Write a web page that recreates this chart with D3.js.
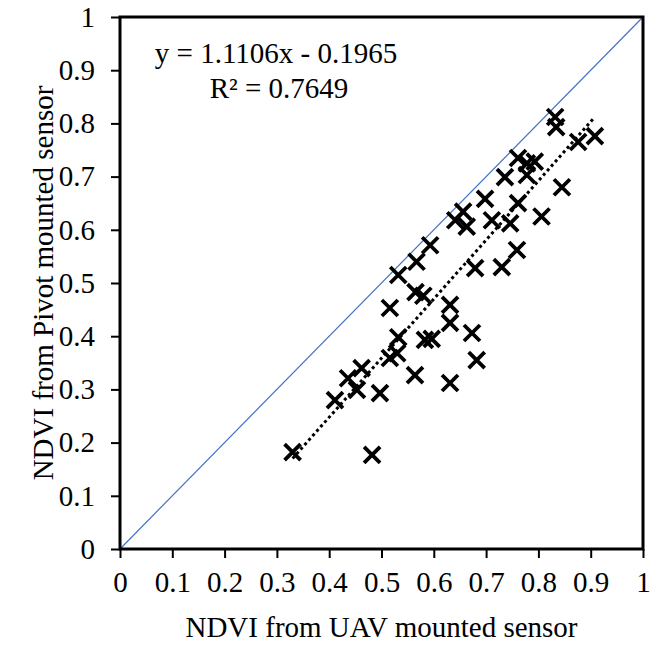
<!DOCTYPE html>
<html>
<head>
<meta charset="utf-8">
<script src="https://cdn.jsdelivr.net/npm/d3@7/dist/d3.min.js"></script>
<style>
  html, body { margin: 0; padding: 0; background: #fff; }
  svg text { font-family: "Liberation Serif", "Times New Roman", serif; fill: #000; }
</style>
</head>
<body>
<svg id="chart" width="669" height="648"></svg>
<script>
// NDVI from UAV mounted sensor (x)
const uavNDVI = [0.832, 0.834, 0.876, 0.908, 0.761, 0.778, 0.793, 0.778, 0.736, 0.845,
                 0.761, 0.698, 0.656, 0.641, 0.663, 0.711, 0.746, 0.806, 0.593, 0.567,
                 0.532, 0.759, 0.679, 0.730, 0.565, 0.580, 0.516, 0.631, 0.631, 0.532,
                 0.583, 0.596, 0.673, 0.530, 0.516, 0.462, 0.436, 0.453, 0.411, 0.497,
                 0.564, 0.682, 0.631, 0.482, 0.330];
// NDVI from Pivot mounted sensor (y)
const pivotNDVI = [0.812, 0.793, 0.765, 0.776, 0.735, 0.725, 0.728, 0.703, 0.699, 0.680,
                   0.650, 0.658, 0.634, 0.618, 0.606, 0.618, 0.612, 0.625, 0.571, 0.540,
                   0.515, 0.562, 0.528, 0.530, 0.483, 0.476, 0.453, 0.459, 0.425, 0.398,
                   0.393, 0.395, 0.406, 0.368, 0.359, 0.340, 0.321, 0.299, 0.280, 0.293,
                   0.327, 0.355, 0.312, 0.177, 0.182];
const xTicks = [0, 0.1, 0.2, 0.3, 0.4, 0.5, 0.6, 0.7, 0.8, 0.9, 1];
const yTicks = [0, 0.1, 0.2, 0.3, 0.4, 0.5, 0.6, 0.7, 0.8, 0.9, 1];
const slope = 1.1106, intercept = -0.1965;
const equationText = "y = 1.1106x - 0.1965";
const r2Text = "R\u00B2 = 0.7649";
const xTitle = "NDVI from UAV mounted sensor";
const yTitle = "NDVI from Pivot mounted sensor";

const svg = d3.select("#chart");
const L = 120, R = 643, T = 17, B = 549;
const x = d3.scaleLinear().domain([0, 1]).range([L, R]);
const y = d3.scaleLinear().domain([0, 1]).range([B, T]);
const fmt = d => d === 0 ? "0" : d === 1 ? "1" : d3.format(".1f")(d);
const FS = "29px";

// 1:1 line
svg.append("line")
  .attr("x1", x(0)).attr("y1", y(0)).attr("x2", x(1)).attr("y2", y(1))
  .attr("stroke", "#4472C4").attr("stroke-width", 1.2);

// axes
const xAxis = svg.append("g").attr("transform", `translate(0,${B})`)
  .call(d3.axisBottom(x).tickValues(xTicks).tickFormat(fmt).tickSize(9).tickPadding(13));
const yAxis = svg.append("g").attr("transform", `translate(${L},0)`)
  .call(d3.axisLeft(y).tickValues(yTicks).tickFormat(fmt).tickSize(9).tickPadding(16));
[xAxis, yAxis].forEach(g => {
  g.select(".domain").remove();
  g.selectAll(".tick line").attr("stroke", "#000").attr("stroke-width", 2);
  g.selectAll(".tick text").style("font-family", "'Liberation Serif', serif")
    .style("font-size", FS).attr("fill", "#000");
});

// frame
svg.append("rect").attr("x", L).attr("y", T).attr("width", R - L).attr("height", B - T)
  .attr("fill", "none").attr("stroke", "#000").attr("stroke-width", 3);

// trendline
const tx0 = d3.min(uavNDVI), tx1 = d3.max(uavNDVI);
svg.append("line")
  .attr("x1", x(tx0)).attr("y1", y(slope * tx0 + intercept))
  .attr("x2", x(tx1)).attr("y2", y(slope * tx1 + intercept))
  .attr("stroke", "#000").attr("stroke-width", 3).attr("stroke-dasharray", "3 3");

// markers
const s = 8;
svg.append("g").selectAll("path").data(uavNDVI.map((v, i) => [v, pivotNDVI[i]])).join("path")
  .attr("transform", d => `translate(${x(d[0])},${y(d[1])})`)
  .attr("d", `M${-s},${-s}L${s},${s}M${-s},${s}L${s},${-s}`)
  .attr("stroke", "#000").attr("stroke-width", 3.8).attr("fill", "none");

// equation
svg.append("text").attr("x", 276).attr("y", 63).attr("text-anchor", "middle")
  .style("font-size", FS).text(equationText);
svg.append("text").attr("x", 279).attr("y", 98).attr("text-anchor", "middle")
  .style("font-size", FS).text(r2Text);

// titles
svg.append("text").attr("x", (L + R) / 2).attr("y", 637).attr("text-anchor", "middle")
  .style("font-size", FS).text(xTitle);
svg.append("text").attr("transform", `translate(53,${(T + B) / 2}) rotate(-90)`)
  .attr("text-anchor", "middle").style("font-size", FS).text(yTitle);
</script>
</body>
</html>
